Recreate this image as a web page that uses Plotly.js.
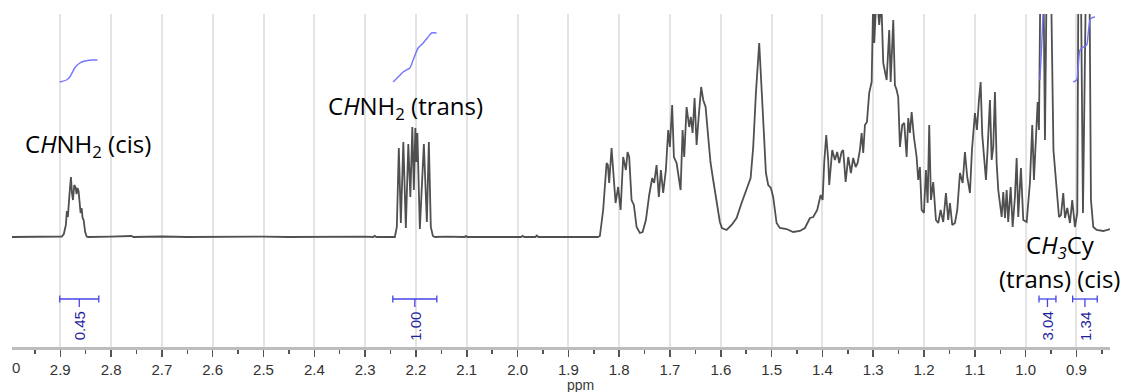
<!DOCTYPE html>
<html>
<head>
<meta charset="utf-8">
<script src="https://cdn.plot.ly/plotly-3.0.1.min.js"></script>
<style>
  html, body { margin: 0; padding: 0; background: #ffffff; }
  #nmr { width: 1129px; height: 392px; }
</style>
</head>
<body>
<div id="nmr"></div>
<script>
// 1H NMR spectrum of methylcyclohexylamine (cis/trans), 2.99–0.83 ppm
const ppm = [
  3.000, 2.960, 2.930, 2.905,
  2.897, 2.893, 2.889, 2.887, 2.885, 2.882, 2.879, 2.877, 2.875, 2.8725, 2.870, 2.868, 2.866, 2.864, 2.862, 2.860, 2.858, 2.856, 2.854, 2.851, 2.848, 2.845,
  2.800, 2.760, 2.756, 2.700, 2.650, 2.600, 2.550, 2.500, 2.450, 2.400, 2.350, 2.300, 2.284, 2.281, 2.278, 2.250,
  2.2415, 2.2376, 2.2337, 2.2297, 2.2248, 2.2199, 2.2150, 2.2110, 2.2071, 2.2041, 2.2012, 2.1992, 2.1972, 2.1923, 2.1844, 2.1785, 2.1746, 2.1707, 2.1667, 2.1628,
  2.140, 2.104, 2.1018, 2.099, 2.050, 1.993, 1.990, 1.987, 1.965, 1.962, 1.959, 1.920, 1.880, 1.860,
  1.8419, 1.8380, 1.8315, 1.8281, 1.8248, 1.8222, 1.8197, 1.8150, 1.8104, 1.8071, 1.8020, 1.7972, 1.7921, 1.7868, 1.7835, 1.7803, 1.7756, 1.7711, 1.7657, 1.7593,
  1.7539, 1.7474, 1.7409, 1.7350, 1.7311, 1.7264, 1.7219, 1.7179, 1.7134, 1.7081, 1.7035, 1.7002, 1.6957, 1.6923, 1.6870, 1.6839, 1.6791, 1.6752, 1.6720, 1.6673,
  1.6622, 1.6589, 1.6555, 1.6516, 1.6476, 1.6437, 1.6386, 1.6346, 1.6299, 1.6248, 1.6201, 1.6150, 1.6116, 1.6083, 1.6051, 1.6018, 1.5978, 1.5886, 1.5787, 1.5689,
  1.5591, 1.5512, 1.5461, 1.5413, 1.5362, 1.5309, 1.5244, 1.5197, 1.5177, 1.5152, 1.5112, 1.5067, 1.5014, 1.4969, 1.4902, 1.4837, 1.4705, 1.4575, 1.4443, 1.4344,
  1.4285, 1.4246, 1.4181, 1.4102, 1.4035, 1.3996, 1.3965, 1.3925, 1.3886, 1.3866, 1.3807, 1.3754, 1.3709, 1.3669, 1.3622, 1.3591, 1.3543, 1.3492, 1.3439, 1.3394,
  1.3346, 1.3307, 1.3262, 1.3228, 1.3197, 1.3163, 1.3124, 1.3079, 1.3031, 1.3012, 1.2996, 1.2980, 1.2933, 1.2882, 1.2839, 1.2803, 1.2736, 1.2685, 1.2657, 1.2606,
  1.2573, 1.2539, 1.2508, 1.2474, 1.2429, 1.2390, 1.2343, 1.2311, 1.2278, 1.2244, 1.2199, 1.2146, 1.2114, 1.2081, 1.2047, 1.2002, 1.1963, 1.1929, 1.1898, 1.1864,
  1.1819, 1.1766, 1.1720, 1.1673, 1.1622, 1.1569, 1.1524, 1.1490, 1.1445, 1.1392, 1.1346, 1.1293, 1.1240, 1.1195, 1.1150, 1.1096, 1.1057, 1.0998, 1.0959, 1.0919,
  1.0886, 1.0854, 1.0821, 1.0781, 1.0748, 1.0703, 1.0669, 1.0638, 1.0604, 1.0571, 1.0539, 1.0506, 1.0472, 1.0441, 1.0407, 1.0374, 1.0343, 1.0295, 1.0256, 1.0211,
  1.0177, 1.0146, 1.0093, 1.0047, 0.9980, 0.9915, 0.9870, 0.9837, 0.9797, 0.9764, 0.9738, 0.9719, 0.9679, 0.9620, 0.9551, 0.9453, 0.9390, 0.9344, 0.9305, 0.9260,
  0.9226, 0.9181, 0.9128, 0.9083, 0.9030, 0.8984, 0.8945, 0.8872, 0.8768, 0.8715, 0.8669, 0.8602, 0.8472, 0.8341
];
const intensity = [
  0, 0.3, 0, 0,
  0.5, 3, 12, 26, 20, 42, 60, 44, 37, 52, 50, 43, 49, 46, 30, 24, 29, 19, 17, 5, 0.5, 0,
  0.4, 1.0, 0, 0.5, 0, 0.3, 0, 0.4, 0, 0.3, 0, 0.3, 0, 1.2, 0, 0,
  0, 10, 89, 14, 95, 9, 93, 40, 110, 47, 109, 75, 104, 8, 93, 15, 95, 10, 1, 0,
  0.3, 0, 1.0, 0, 0.3, 0, 1.2, 0, 0, 1.5, 0, 0.3, 0, 0.2,
  0, 1, 27, 52, 74, 72, 54, 89, 54, 34, 50, 27, 80, 67, 85, 80, 37, 32, 10, 4,
  5, 17, 42, 59, 54, 72, 40, 67, 44, 67, 107, 90, 132, 80, 74, 64, 47, 107, 80, 130,
  110, 120, 104, 139, 92, 119, 150, 137, 130, 100, 74, 57, 45, 37, 22, 15, 9, 7, 12, 19,
  34, 45, 52, 59, 90, 144, 194, 154, 134, 104, 64, 52, 49, 40, 14, 9, 8, 5, 6, 9,
  15, 19, 20, 27, 42, 37, 74, 102, 77, 52, 87, 77, 85, 74, 85, 87, 55, 80, 64, 79,
  70, 74, 87, 104, 84, 112, 115, 144, 155, 194, 250, 194, 245, 212, 235, 174, 157, 207, 155, 217,
  152, 147, 140, 90, 112, 114, 80, 119, 104, 125, 100, 80, 57, 70, 27, 24, 67, 34, 112, 37,
  55, 17, 14, 27, 15, 44, 17, 34, 12, 14, 27, 64, 54, 85, 60, 44, 87, 124, 107, 137,
  155, 102, 77, 57, 89, 137, 77, 90, 145, 74, 47, 32, 20, 45, 19, 47, 15, 50, 10, 40,
  79, 20, 69, 17, 15, 55, 112, 57, 107, 135, 107, 154, 420, 97, 430, 87, 50, 20, 22, 44,
  19, 29, 14, 37, 10, 24, 440, 24, 440, 37, 10, 7, 6, 8
];

// Running integral traces drawn above each multiplet
const integralCisCHX  = [2.9010, 2.8878, 2.8813, 2.8715, 2.8616, 2.8518, 2.8386, 2.8268];
const integralCisCHY  = [155, 157, 160, 169, 174, 176, 177, 177];
const integralTransCHX = [2.2449, 2.2350, 2.2252, 2.2120, 2.2055, 2.1957, 2.1858, 2.1760, 2.1693, 2.1594];
const integralTransCHY = [155, 160, 165, 169, 177, 189, 194, 200, 204, 204];
const integralTransMeX = [0.9719, 0.9689, 0.9659, 0.9640];
const integralTransMeY = [157, 187, 223, 260];
const integralCisMeX  = [0.9063, 0.8996, 0.8965, 0.8931, 0.8866, 0.8799, 0.8768, 0.8734, 0.8701, 0.8636];
const integralCisMeY  = [155, 157, 170, 187, 190, 192, 204, 217, 219, 220];

// Integration regions and their relative values
const integralFrom   = [2.9010, 2.2455, 0.9738, 0.9075];
const integralTo     = [2.8242, 2.1589, 0.9404, 0.8591];
const integralValues = ['0.45', '1.00', '3.04', '1.34'];

// Axis ticks
const tickValues = [2.9, 2.8, 2.7, 2.6, 2.5, 2.4, 2.3, 2.2, 2.1, 2.0, 1.9, 1.8, 1.7, 1.6, 1.5, 1.4, 1.3, 1.2, 1.1, 1.0, 0.9];
const tickLabels = ['2.9', '2.8', '2.7', '2.6', '2.5', '2.4', '2.3', '2.2', '2.1', '2.0', '1.9', '1.8', '1.7', '1.6', '1.5', '1.4', '1.3', '1.2', '1.1', '1.0', '0.9'];

// Peak assignments
const peakLabels = ['C<i>H</i>NH<sub>2</sub> (cis)', 'C<i>H</i>NH<sub>2</sub> (trans)', 'C<i>H<sub>3</sub></i>Cy', '(trans) (cis)'];
const peakLabelPpm = [2.8449, 2.2209, 0.9320, 0.9325];
const peakLabelLevel = [92, 130, -9, -41];

const integralBlue = '#7575ff';
const barBlue = '#4545e6';
const labelBlue = '#1f1f9c';

const traces = [];

traces.push({
  x: ppm, y: intensity, type: 'scatter', mode: 'lines',
  line: { color: '#505050', width: 1.8 }, hoverinfo: 'skip'
});

[[integralCisCHX, integralCisCHY], [integralTransCHX, integralTransCHY],
 [integralTransMeX, integralTransMeY], [integralCisMeX, integralCisMeY]].forEach(([xs, ys]) => {
  traces.push({
    x: xs, y: ys, type: 'scatter', mode: 'lines',
    line: { color: integralBlue, width: 1.4, shape: 'spline', smoothing: 0.6 }, hoverinfo: 'skip'
  });
});

// Integration bars: horizontal span with end caps and a short leader down to the value
const barLevel = -62, capHalf = 3.5, leaderEnd = -70;
const bx = [], by = [];
integralFrom.forEach((a, i) => {
  const b = integralTo[i];
  const mid = (a + b) / 2;
  bx.push(a, b, null, a, a, null, b, b, null, mid, mid, null);
  by.push(barLevel, barLevel, null, barLevel - capHalf, barLevel + capHalf, null,
          barLevel - capHalf, barLevel + capHalf, null, barLevel, leaderEnd, null);
});
traces.push({
  x: bx, y: by, type: 'scatter', mode: 'lines',
  line: { color: barBlue, width: 1.3 }, hoverinfo: 'skip'
});

const annotations = [];
integralValues.forEach((v, i) => {
  annotations.push({
    x: (integralFrom[i] + integralTo[i]) / 2, y: -89, xref: 'x', yref: 'y',
    text: v, showarrow: false, textangle: -90,
    xanchor: 'center', yanchor: 'middle',
    font: { family: 'Liberation Sans, Arial, sans-serif', size: 15, color: labelBlue }
  });
});
peakLabels.forEach((t, i) => {
  annotations.push({
    x: peakLabelPpm[i], y: peakLabelLevel[i], xref: 'x', yref: 'y',
    text: t, showarrow: false, xanchor: 'center', yanchor: 'middle',
    font: { family: 'Open Sans, sans-serif', size: 24, color: '#000000' }
  });
});
// Axis unit and the stray leading label at the left edge
annotations.push({
  x: 1.877, y: -0.114, xref: 'x', yref: 'paper', text: 'ppm', showarrow: false,
  xanchor: 'center', yanchor: 'middle',
  font: { family: 'Liberation Sans, Arial, sans-serif', size: 14, color: '#3a3a3a' }
});
annotations.push({
  x: 2.9862, y: -0.063, xref: 'x', yref: 'paper', text: '0', showarrow: false,
  xanchor: 'center', yanchor: 'middle',
  font: { family: 'Liberation Sans, Arial, sans-serif', size: 15, color: '#3a3a3a' }
});

const layout = {
  width: 1129, height: 392,
  margin: { l: 12, r: 19, t: 14, b: 45 },
  paper_bgcolor: '#ffffff', plot_bgcolor: '#ffffff',
  showlegend: false,
  xaxis: {
    range: [2.995, 0.834],
    tickmode: 'array', tickvals: tickValues, ticktext: tickLabels,
    ticks: 'outside', ticklen: 7, tickwidth: 1.5, tickcolor: '#555555',
    tickfont: { family: 'Liberation Sans, Arial, sans-serif', size: 15, color: '#333333' },
    showline: true, linecolor: '#bdbdbd', linewidth: 3,
    showgrid: true, gridcolor: '#e4e4e4', gridwidth: 2,
    zeroline: false,
    minor: { tickmode: 'linear', tick0: 0.05, dtick: 0.1, ticks: 'outside', ticklen: 4, tickwidth: 1.5, tickcolor: '#555555', showgrid: false }
  },
  yaxis: {
    range: [-110, 223], visible: false, showgrid: false, zeroline: false, fixedrange: true
  },
  annotations: annotations
};

Plotly.newPlot('nmr', traces, layout, { staticPlot: true, displayModeBar: false });
</script>
</body>
</html>
